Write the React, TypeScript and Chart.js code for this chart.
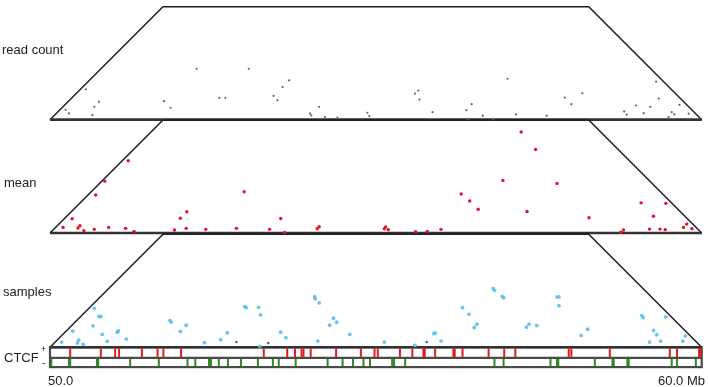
import React, { useEffect, useRef } from "react";
import { Chart, registerables } from "chart.js";

Chart.register(...registerables);

// Genomic range (Mb)
const X_START = 50;
const X_END = 60;

// Panel labels (top to bottom)
const panelLabels = ["read count", "mean", "samples"];

// Points: [position (Mb), height above panel base (Mb)]
const readCountPoints: [number, number][] = [
  [50.24, 0.153], [50.29, 0.096], [50.55, 0.469], [50.75, 0.276], [50.68, 0.199],
  [50.65, 0.07], [52.25, 0.786], [53.05, 0.786], [51.75, 0.285], [51.85, 0.184],
  [52.6, 0.337], [52.69, 0.337], [53.67, 0.606], [53.57, 0.505], [53.43, 0.368],
  [53.49, 0.3], [53.99, 0.096], [54.01, 0.066], [54.13, 0.199], [54.22, 0.04],
  [54.41, 0.031], [54.87, 0.107], [54.9, 0.055], [55.6, 0.403], [55.65, 0.449],
  [55.67, 0.311], [55.87, 0.116], [56.39, 0.147], [56.47, 0.239], [56.41, 0.012],
  [56.64, 0.061], [56.8, 0.008], [57.02, 0.632], [57.15, 0.081], [57.62, 0.061],
  [57.9, 0.341], [58.0, 0.239], [58.17, 0.407], [58.81, 0.127], [58.85, 0.077],
  [58.99, 0.219], [59.11, 0.101], [59.21, 0.199], [59.3, 0.587], [59.34, 0.326],
  [59.49, 0.04], [59.54, 0.116], [59.58, 0.081], [59.66, 0.23], [59.8, 0.092],
];

const meanPoints: [number, number][] = [
  [51.2, 1.118], [50.84, 0.802], [50.7, 0.588], [50.34, 0.221], [50.2, 0.087],
  [50.46, 0.113], [50.43, 0.077], [50.52, 0.037], [50.68, 0.057], [50.9, 0.087],
  [51.16, 0.072], [51.29, 0.026], [51.91, 0.046], [52.09, 0.072], [52.0, 0.23],
  [52.1, 0.328], [52.39, 0.057], [52.98, 0.639], [52.86, 0.072], [53.37, 0.057],
  [53.54, 0.225], [53.6, 0.008], [54.1, 0.067], [54.13, 0.098], [55.13, 0.067],
  [55.15, 0.092], [55.19, 0.052], [55.61, 0.021], [55.79, 0.026], [56.0, 0.057],
  [56.31, 0.603], [56.44, 0.496], [56.57, 0.368], [56.95, 0.812], [57.23, 1.562],
  [57.32, 0.332], [57.45, 1.292], [57.78, 0.766], [58.27, 0.236], [58.76, 0.011],
  [58.8, 0.046], [59.07, 0.466], [59.2, 0.061], [59.26, 0.26], [59.36, 0.061],
  [59.44, 0.052], [59.45, 0.459], [59.72, 0.087], [59.77, 0.138], [59.85, 0.067],
];

const samplesPoints: [number, number][] = [
  [50.68, 0.602], [50.75, 0.479], [50.78, 0.475], [50.66, 0.332], [50.35, 0.25],
  [50.8, 0.199], [51.03, 0.234], [51.05, 0.253], [50.88, 0.092], [51.17, 0.127],
  [50.44, 0.112], [50.18, 0.081], [50.42, 0.066], [50.51, 0.046], [51.84, 0.413],
  [51.86, 0.39], [52.09, 0.341], [52.0, 0.245], [52.72, 0.225], [52.37, 0.072],
  [52.62, 0.118], [52.99, 0.628], [53.01, 0.613], [53.2, 0.617], [53.23, 0.501],
  [53.22, 0.015], [53.54, 0.234], [53.62, 0.149], [54.06, 0.781], [54.07, 0.75],
  [54.13, 0.685], [54.35, 0.449], [54.4, 0.387], [54.29, 0.341], [54.6, 0.199],
  [54.11, 0.096], [55.13, 0.081], [55.6, 0.03], [55.89, 0.21], [55.91, 0.222],
  [56.0, 0.096], [56.33, 0.613], [56.43, 0.51], [56.55, 0.357], [56.51, 0.306],
  [56.8, 0.908], [56.82, 0.88], [56.94, 0.786], [56.96, 0.766], [57.35, 0.357],
  [57.31, 0.311], [57.47, 0.337], [57.78, 0.776], [57.81, 0.78], [57.81, 0.643],
  [58.15, 0.184], [58.25, 0.28], [59.08, 0.49], [59.1, 0.46], [59.45, 0.47],
  [59.26, 0.26], [59.31, 0.194], [59.37, 0.096], [59.2, 0.081], [59.71, 0.096],
  [59.75, 0.173],
];

const samplesDarkPoints: [number, number][] = [
  [52.86, 0.081], [55.78, 0.081], [53.35, 0.066],
];

// CTCF motif positions (Mb)
const ctcfPlus = [
  50.31, 50.78, 51.0, 51.06, 51.41, 51.65, 51.74, 52.01, 53.28, 53.64, 53.76,
  53.86, 53.89, 54.0, 54.39, 54.77, 54.98, 55.03, 55.37, 55.56, 55.73, 55.75,
  55.91, 56.19, 56.21, 56.33, 56.73, 56.97, 57.14, 57.96, 58.0, 58.59, 59.51,
  59.62, 59.96, 59.98,
];
const ctcfMinus = [
  50.02, 50.29, 50.31, 50.72, 50.74, 51.23, 51.67, 52.11, 52.23, 52.44, 52.47,
  52.59, 52.73, 52.93, 53.19, 53.42, 53.51, 53.77, 54.26, 54.49, 54.65, 54.81,
  54.91, 55.25, 55.28, 55.45, 56.82, 56.96, 57.68, 57.78, 57.8, 58.36, 58.63,
  58.65, 58.86, 58.88, 59.54, 59.62, 59.91,
];

// Layout constants (in Mb units on the shared y scale)
const Y_MIN = -0.32;
const Y_MAX = 5.27;
const PANEL_H = 1.746;
const PANEL_BASES = [3.518, 1.766, 0];
const TRACK_SPLIT = -0.165;
const TRACK_BOTTOM = -0.306;
const PLUS_Y = -0.0825;
const MINUS_Y = -0.2355;

const toXY = (pts: [number, number][], base: number) =>
  pts.map(([x, h]) => ({ x, y: base + h }));

const framePlugin = {
  id: "frames",
  beforeDatasetsDraw(chart: any) {
    const { ctx } = chart;
    const x = chart.scales.x;
    const y = chart.scales.y;
    const xl = x.getPixelForValue(X_START);
    const xr = x.getPixelForValue(X_END);
    ctx.save();
    // CTCF tracks
    const t0 = y.getPixelForValue(0);
    const tm = y.getPixelForValue(TRACK_SPLIT);
    const tb = y.getPixelForValue(TRACK_BOTTOM);
    ctx.strokeStyle = "#4a4a4a";
    ctx.lineWidth = 2.2;
    ctx.strokeRect(xl, t0, xr - xl, tb - t0);
    ctx.beginPath();
    ctx.moveTo(xl, tm);
    ctx.lineTo(xr, tm);
    ctx.stroke();
    // Trapezoid panels
    PANEL_BASES.forEach((b) => {
      const yb = y.getPixelForValue(b);
      const yt = y.getPixelForValue(b + PANEL_H);
      const d = yb - yt;
      ctx.beginPath();
      ctx.moveTo(xl, yb);
      ctx.lineTo(xl + d, yt);
      ctx.lineTo(xr - d, yt);
      ctx.lineTo(xr, yb);
      ctx.lineWidth = 1.5;
      ctx.strokeStyle = "#1e1e1e";
      ctx.stroke();
      ctx.beginPath();
      ctx.moveTo(xl, yb);
      ctx.lineTo(xr, yb);
      ctx.lineWidth = 2.6;
      ctx.strokeStyle = "#333333";
      ctx.stroke();
    });
    ctx.restore();
  },
};

const labelStyle: React.CSSProperties = {
  position: "absolute",
  fontFamily: '"Liberation Sans", Arial, sans-serif',
  fontSize: 13,
  lineHeight: "15px",
  color: "#222",
  whiteSpace: "nowrap",
  zIndex: 2,
};

export default function App() {
  const canvasRef = useRef<HTMLCanvasElement | null>(null);

  useEffect(() => {
    document.body.style.margin = "0";
    const canvas = canvasRef.current;
    if (!canvas) return;
    const pointDs = (data: any[], color: string, r: number) => ({
      type: "scatter" as const,
      data,
      pointRadius: r,
      pointHoverRadius: r,
      pointBorderWidth: 0,
      backgroundColor: color,
      borderColor: color,
      clip: false as any,
    });
    const tickDs = (positions: number[], yv: number, color: string, r: number) => ({
      type: "scatter" as const,
      data: positions.map((p) => ({ x: p, y: yv })),
      pointStyle: "line" as const,
      rotation: 90,
      pointRadius: r,
      pointHoverRadius: r,
      borderWidth: 2,
      pointBorderWidth: 2,
      borderColor: color,
      backgroundColor: color,
      clip: false as any,
    });
    const chart = new Chart(canvas, {
      type: "scatter",
      data: {
        datasets: [
          pointDs(toXY(readCountPoints, PANEL_BASES[0]), "#3f7a55", 1.1),
          pointDs(toXY(meanPoints, PANEL_BASES[1]), "#e3122d", 1.7),
          pointDs(toXY(samplesPoints, PANEL_BASES[2]), "rgba(92,190,234,0.9)", 1.9),
          pointDs(toXY(samplesDarkPoints, PANEL_BASES[2]), "#2f5d85", 1.2),
          tickDs(ctcfPlus, PLUS_Y, "#e41a1c", 4.3),
          tickDs(ctcfMinus, MINUS_Y, "#2e8b1f", 3.7),
        ] as any,
      },
      options: {
        responsive: false,
        animation: false,
        devicePixelRatio: 1,
        layout: { padding: { left: 50, right: 5, top: 3, bottom: 19 } },
        plugins: {
          legend: { display: false },
          tooltip: { enabled: false },
        },
        events: [],
        scales: {
          x: { type: "linear", min: X_START, max: X_END, display: false },
          y: { type: "linear", min: Y_MIN, max: Y_MAX, display: false },
        },
      },
      plugins: [framePlugin],
    });
    return () => chart.destroy();
  }, []);

  return (
    <div style={{ position: "absolute", left: 0, top: 0, width: 708, height: 387, background: "#fff" }}>
      <canvas ref={canvasRef} width={708} height={387} style={{ position: "absolute", left: 0, top: 0, width: 708, height: 387 }} />
      <div style={{ ...labelStyle, left: 2, top: 42 }}>{panelLabels[0]}</div>
      <div style={{ ...labelStyle, left: 4, top: 175 }}>{panelLabels[1]}</div>
      <div style={{ ...labelStyle, left: 3, top: 284 }}>{panelLabels[2]}</div>
      <div style={{ ...labelStyle, left: 4, top: 350 }}>CTCF</div>
      <div style={{ ...labelStyle, left: 41, top: 344, fontSize: 9, lineHeight: "10px" }}>+</div>
      <div style={{ ...labelStyle, left: 42, top: 358, fontSize: 10, lineHeight: "10px" }}>-</div>
      <div style={{ ...labelStyle, left: 48, top: 373 }}>{X_START.toFixed(1)}</div>
      <div style={{ ...labelStyle, right: 3, top: 373, textAlign: "right" }}>{X_END.toFixed(1)} Mb</div>
    </div>
  );
}
